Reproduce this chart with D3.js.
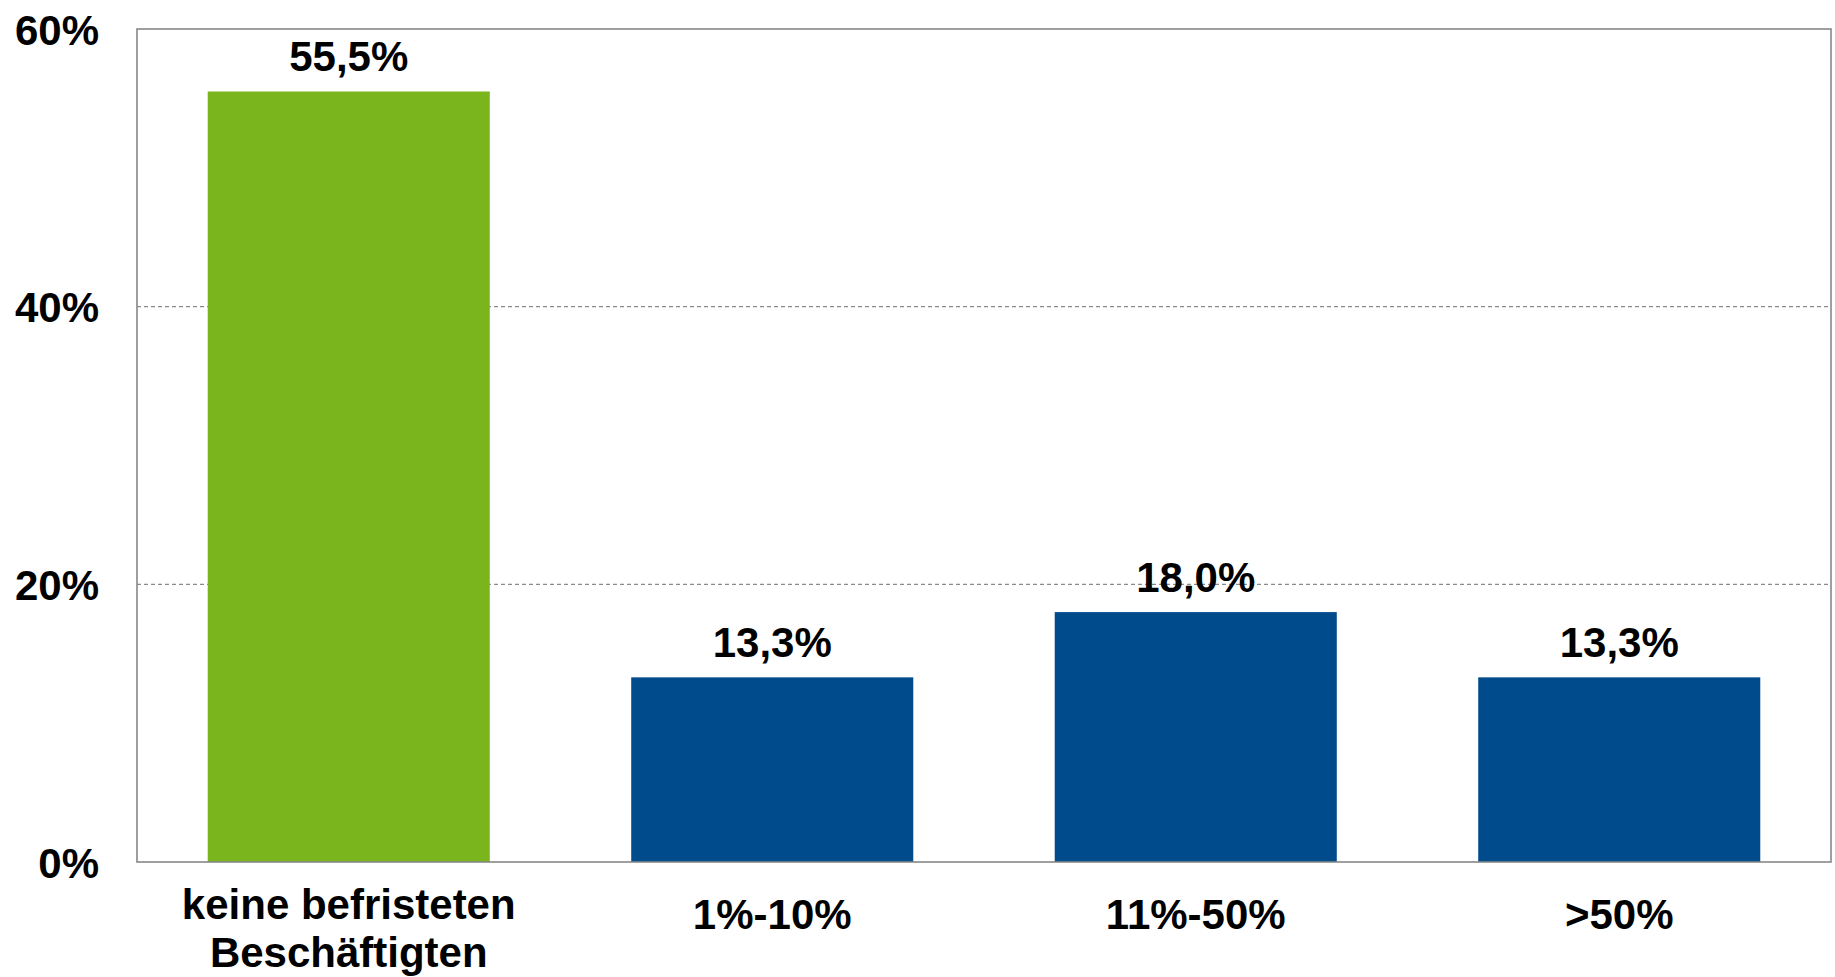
<!DOCTYPE html>
<html>
<head>
<meta charset="utf-8">
<script src="https://cdn.jsdelivr.net/npm/d3@7"></script>
<style>
  html, body { margin: 0; padding: 0; background: #ffffff; }
  svg { display: block; }
  text { font-family: "Liberation Sans", Arial, sans-serif; font-weight: bold; fill: #000; }
</style>
</head>
<body>
<svg id="chart" width="1835" height="977"></svg>
<script>
const categories = [["keine befristeten", "Beschäftigten"], ["1%-10%"], ["11%-50%"], [">50%"]];
const values = [55.5, 13.3, 18.0, 13.3];
const valueLabels = ["55,5%", "13,3%", "18,0%", "13,3%"];
const barColors = ["#7AB51E", "#004B8C", "#004B8C", "#004B8C"];
const yTicks = [0, 20, 40, 60];
const yTickLabels = ["0%", "20%", "40%", "60%"];

const W = 1835, H = 977;
const m = { left: 137, right: 4, top: 29, bottom: 115 };
const svg = d3.select("#chart");

const x = d3.scaleBand()
  .domain(d3.range(categories.length))
  .range([m.left, W - m.right])
  .paddingInner(0.334)
  .paddingOuter(0.167);

const y = d3.scaleLinear().domain([0, 60]).range([H - m.bottom, m.top]);

// gridlines
svg.append("g").selectAll("line")
  .data(yTicks.filter(t => t > 0 && t < 60))
  .join("line")
  .attr("x1", m.left).attr("x2", W - m.right)
  .attr("y1", d => y(d)).attr("y2", d => y(d))
  .attr("stroke", "#8a8a8a").attr("stroke-width", 1.2)
  .attr("stroke-dasharray", "4,3");

// bars
svg.append("g").selectAll("rect")
  .data(values)
  .join("rect")
  .attr("x", (d, i) => x(i))
  .attr("width", x.bandwidth())
  .attr("y", d => y(d))
  .attr("height", d => y(0) - y(d))
  .attr("fill", (d, i) => barColors[i]);

// plot border
svg.append("rect")
  .attr("x", m.left).attr("y", m.top)
  .attr("width", W - m.right - m.left).attr("height", y(0) - m.top)
  .attr("fill", "none").attr("stroke", "#878787").attr("stroke-width", 1.6);

// y axis labels
const yAxis = d3.axisLeft(y).tickValues(yTicks)
  .tickFormat((d, i) => yTickLabels[i]).tickSize(0).tickPadding(38);
const gy = svg.append("g").attr("transform", `translate(${m.left},0)`).call(yAxis);
gy.select(".domain").remove();
gy.selectAll("text").style("font-size", "42px")
  .style("font-family", "'Liberation Sans', Arial, sans-serif").style("font-weight", "bold")
  .attr("fill", "#000").attr("dy", "0.36em");

// value labels
svg.append("g").selectAll("text")
  .data(values)
  .join("text")
  .attr("x", (d, i) => x(i) + x.bandwidth() / 2)
  .attr("y", d => y(d) - 20)
  .attr("text-anchor", "middle")
  .style("font-size", "42px")
  .text((d, i) => valueLabels[i]);

// category labels
const cg = svg.append("g").selectAll("text")
  .data(categories)
  .join("text")
  .attr("x", (d, i) => x(i) + x.bandwidth() / 2)
  .attr("y", d => d.length > 1 ? 919 : 929)
  .attr("text-anchor", "middle")
  .style("font-size", "42px");
cg.selectAll("tspan")
  .data(d => d)
  .join("tspan")
  .attr("x", function() { return d3.select(this.parentNode).attr("x"); })
  .attr("dy", (d, i) => i === 0 ? 0 : 48)
  .text(d => d);
</script>
</body>
</html>
